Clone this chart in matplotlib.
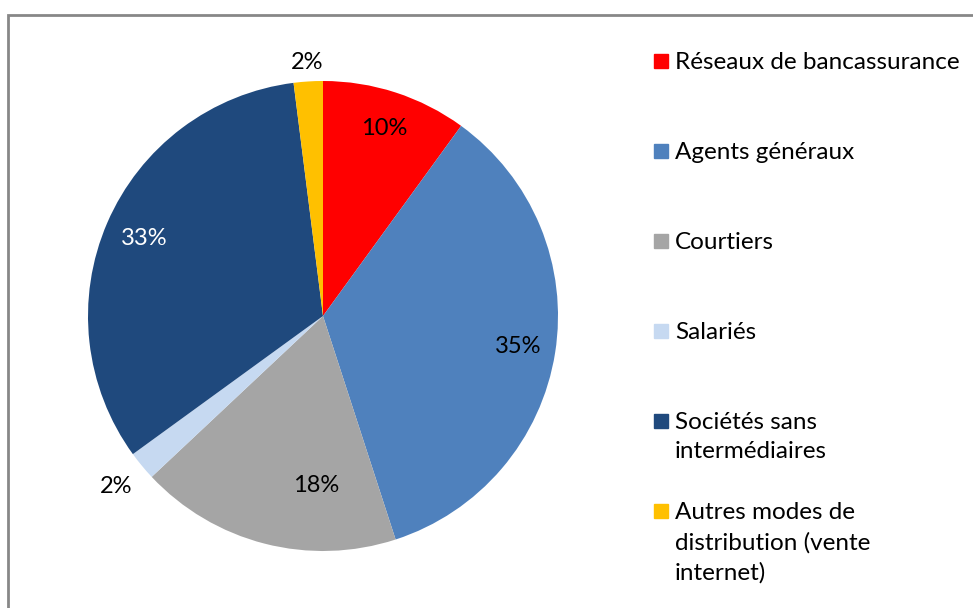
import matplotlib
matplotlib.use("Agg")
import matplotlib.pyplot as plt
import numpy as np
from matplotlib.patches import Rectangle

plt.rcParams["font.family"] = ["Lato", "DejaVu Sans"]

categories = ["Réseaux de bancassurance", "Agents généraux", "Courtiers",
              "Salariés", "Sociétés sans\nintermédiaires",
              "Autres modes de\ndistribution (vente\ninternet)"]
shares = [10, 35, 18, 2, 33, 2]
colors = ["#FF0000", "#4F81BD", "#A5A5A5", "#C6D9F1", "#1F497D", "#FFC000"]

# label placement per slice: radial distance, angular shift (deg), colour
lab_r = [0.84, 0.84, 0.72, 1.14, 0.83, 1.08]
lab_shift = [0, 0, 12, 0, 0, 0]
lab_col = ["#000000", "#000000", "#000000", "#000000", "#FFFFFF", "#000000"]

W, H = 973, 608
fig = plt.figure(figsize=(W / 100, H / 100), dpi=100)

# outer frame (left and top visible)
fig.patches.append(Rectangle((8 / W, -0.1), 1.2, 1.1 - 15 / H,
                             transform=fig.transFigure, fill=False,
                             edgecolor="#878787", linewidth=2))

cx, cy, r = 323, 316, 235
ax = fig.add_axes([(cx - r) / W, (H - cy - r) / H, 2 * r / W, 2 * r / H])
wedges, _ = ax.pie(shares, colors=colors, startangle=90, counterclock=False,
                   radius=1, wedgeprops=dict(linewidth=0))
ax.set_xlim(-1, 1); ax.set_ylim(-1, 1)
ax.set_aspect("equal")
ax.axis("off")

for i, w in enumerate(wedges):
    mid = np.deg2rad((w.theta1 + w.theta2) / 2 + lab_shift[i])
    ax.text(lab_r[i] * np.cos(mid), lab_r[i] * np.sin(mid), f"{shares[i]}%",
            ha="center", va="center", fontsize=17, color=lab_col[i])

# legend
for i, (lab, c) in enumerate(zip(categories, colors)):
    y = 61 + 90 * i
    fig.patches.append(Rectangle((654 / W, 1 - (y + 7) / H), 14 / W, 14 / H,
                                 transform=fig.transFigure, color=c))
    fig.text(675 / W, 1 - (y - 9) / H, lab, ha="left", va="top",
             fontsize=17.5, linespacing=1.5, color="#000000")

fig.savefig("out.png", dpi=100)
